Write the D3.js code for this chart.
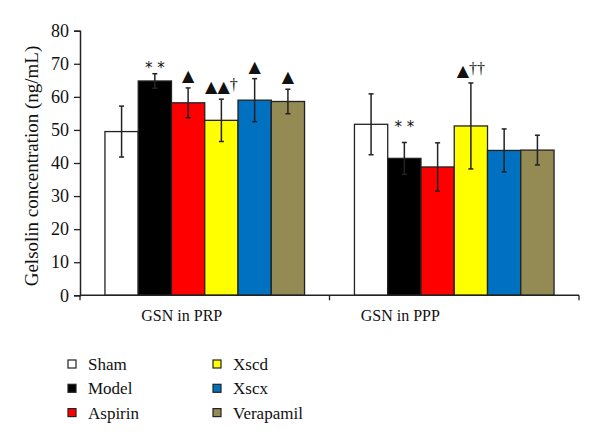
<!DOCTYPE html>
<html>
<head>
<meta charset="utf-8">
<script src="https://cdn.jsdelivr.net/npm/d3@7"></script>
<style>
  body { margin: 0; background: #fff; }
  svg text { font-family: 'Liberation Serif', 'Times New Roman', serif; fill: #111; }
</style>
</head>
<body>
<div id="chart"></div>
<script>
// data
const groups = ['GSN in PRP', 'GSN in PPP'];
const seriesNames = ['Sham', 'Model', 'Aspirin', 'Xscd', 'Xscx', 'Verapamil'];
const seriesColors = ['#ffffff', '#000000', '#ff0000', '#ffff00', '#0070c0', '#948a54'];
const prpMeans = [49.5, 64.8, 58.2, 52.9, 59.0, 58.6];
const prpErrors = [7.7, 2.2, 4.5, 6.4, 6.5, 3.7];
const pppMeans = [51.7, 41.4, 38.8, 51.2, 43.8, 43.9];
const pppErrors = [9.2, 4.8, 7.3, 13.0, 6.5, 4.5];
const prpMarks = ['', '* *', '▲', '▲▲†', '▲', '▲'];
const pppMarks = ['', '* *', '', '▲††', '', ''];
const yTicks = [0, 10, 20, 30, 40, 50, 60, 70, 80];

const means = [prpMeans, pppMeans];
const errors = [prpErrors, pppErrors];
const marks = [prpMarks, pppMarks];

const width = 600, height = 445;
const margin = { left: 80, right: 21, top: 31, bottom: 150 };

const svg = d3.select('#chart').append('svg')
  .attr('width', width)
  .attr('height', height);

const x0 = d3.scaleBand()
  .domain(groups)
  .range([margin.left, width - margin.right])
  .paddingInner(0.2)
  .paddingOuter(0.1);

const x1 = d3.scaleBand()
  .domain(seriesNames)
  .range([0, x0.bandwidth()]);

const y = d3.scaleLinear()
  .domain([0, 80])
  .range([height - margin.bottom + 0.3, margin.top - 0.3]);

const color = d3.scaleOrdinal().domain(seriesNames).range(seriesColors);

// rows for every bar
const rows = [];
groups.forEach((g, gi) => {
  seriesNames.forEach((s, si) => {
    rows.push({ gi, group: g, series: s, value: means[gi][si], err: errors[gi][si], mark: marks[gi][si] });
  });
});

// bars
svg.append('g')
  .selectAll('rect')
  .data(rows)
  .join('rect')
  .attr('x', d => x0(d.group) + x1(d.series))
  .attr('y', d => y(d.value))
  .attr('width', x1.bandwidth())
  .attr('height', d => y(0) - y(d.value))
  .attr('fill', d => color(d.series))
  .attr('stroke', '#222')
  .attr('stroke-width', 1.3);

// error bars
const eb = svg.append('g').attr('stroke', '#222').attr('stroke-width', 1.5);
rows.forEach(d => {
  const cx = x0(d.group) + x1(d.series) + x1.bandwidth() / 2;
  eb.append('line').attr('x1', cx).attr('x2', cx).attr('y1', y(d.value + d.err)).attr('y2', y(d.value - d.err));
  eb.append('line').attr('x1', cx - 2.5).attr('x2', cx + 2.5).attr('y1', y(d.value + d.err)).attr('y2', y(d.value + d.err));
  eb.append('line').attr('x1', cx - 2.5).attr('x2', cx + 2.5).attr('y1', y(d.value - d.err)).attr('y2', y(d.value - d.err));
});

// significance marks (asterisks sit higher in the PPP group)
function markGap(d) {
  if (d.mark.startsWith('*')) return d.gi === 1 ? 10 : 1;
  return 7;
}
svg.append('g')
  .selectAll('text')
  .data(rows.filter(d => d.mark))
  .join('text')
  .attr('x', d => x0(d.group) + x1(d.series) + x1.bandwidth() / 2)
  .attr('y', d => y(d.value + d.err) - markGap(d))
  .attr('text-anchor', 'middle')
  .style('font-family', 'DejaVu Sans, sans-serif')
  .style('font-size', d => d.mark.startsWith('*') ? '15px' : '16px')
  .style('fill', '#111')
  .each(function(d) {
    const t = d3.select(this);
    const tri = d.mark.replace(/†/g, '');
    const dag = d.mark.slice(tri.length);
    t.append('tspan').text(tri);
    if (dag) {
      t.append('tspan')
        .style('font-family', 'Liberation Serif, serif')
        .style('font-size', '16px')
        .style('fill', '#111')
        .attr('dy', -2)
        .text(dag);
    }
  });

// y axis
const yAxis = svg.append('g')
  .attr('transform', `translate(${margin.left},0)`)
  .call(d3.axisLeft(y).tickValues(yTicks).tickSize(6).tickPadding(5));
yAxis.select('.domain').attr('stroke', '#222').attr('stroke-width', 1.5);
yAxis.selectAll('.tick line').attr('stroke', '#222').attr('stroke-width', 1.3);
yAxis.selectAll('.tick text')
  .style('font-family', 'Liberation Serif, serif')
  .style('font-size', '18px')
  .style('fill', '#111');

// x axis baseline and ticks
const xEdges = [x0.range()[0], x0(groups[1]) - x0.step() * x0.paddingInner() / 2, x0.range()[1]];
svg.append('line')
  .attr('x1', xEdges[0]).attr('x2', xEdges[2])
  .attr('y1', y(0)).attr('y2', y(0))
  .attr('stroke', '#222').attr('stroke-width', 1.5);
svg.append('g').selectAll('line')
  .data(xEdges)
  .join('line')
  .attr('x1', d => d).attr('x2', d => d)
  .attr('y1', y(0)).attr('y2', y(0) + 5)
  .attr('stroke', '#222').attr('stroke-width', 1.3);

// group labels
const labelShift = [-23, -54];
svg.append('g')
  .selectAll('text')
  .data(groups)
  .join('text')
  .attr('x', (d, i) => x0(d) + x0.bandwidth() / 2 + labelShift[i])
  .attr('y', 321)
  .attr('text-anchor', 'middle')
  .style('font-size', '16px')
  .text(d => d);

// y axis title
svg.append('text')
  .attr('transform', `translate(38,166) rotate(-90)`)
  .attr('text-anchor', 'middle')
  .style('font-size', '19px')
  .text('Gelsolin concentration (ng/mL)');

// legend
const legend = svg.append('g');
seriesNames.forEach((s, i) => {
  const col = Math.floor(i / 3), row = i % 3;
  const gx = 68 + col * 145, gy = 364 + row * 24.3;
  legend.append('rect')
    .attr('x', gx).attr('y', gy - 4)
    .attr('width', 8).attr('height', 8)
    .attr('fill', color(s))
    .attr('stroke', '#222').attr('stroke-width', 1.2);
  legend.append('text')
    .attr('x', gx + 20).attr('y', gy + 6)
    .style('font-size', '17px')
    .text(s);
});
</script>
</body>
</html>
